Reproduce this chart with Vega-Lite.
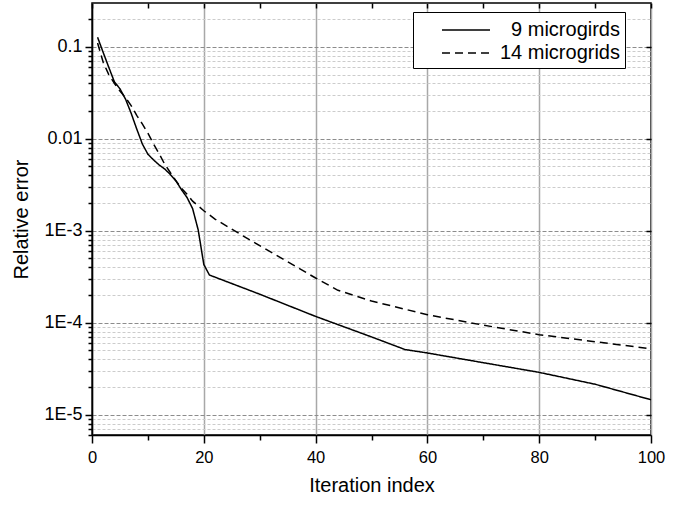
{
  "$schema": "https://vega.github.io/schema/vega-lite/v6.json",
  "width": 559,
  "height": 432,
  "autosize": {"type": "none"},
  "padding": {"left": 92, "top": 3, "right": 41, "bottom": 71},
  "config": {
    "font": "Liberation Sans",
    "view": {"stroke": "black", "strokeWidth": 1.5}
  },
  "data": {
    "values": [
      {"s": "9 microgirds", "x": 1, "y": 0.127},
      {"s": "9 microgirds", "x": 2, "y": 0.087},
      {"s": "9 microgirds", "x": 3, "y": 0.06},
      {"s": "9 microgirds", "x": 4, "y": 0.0417},
      {"s": "9 microgirds", "x": 5, "y": 0.035},
      {"s": "9 microgirds", "x": 6, "y": 0.027},
      {"s": "9 microgirds", "x": 7, "y": 0.019},
      {"s": "9 microgirds", "x": 8, "y": 0.0128},
      {"s": "9 microgirds", "x": 9, "y": 0.0088},
      {"s": "9 microgirds", "x": 10, "y": 0.0068},
      {"s": "9 microgirds", "x": 11, "y": 0.0059},
      {"s": "9 microgirds", "x": 12, "y": 0.0052},
      {"s": "9 microgirds", "x": 13, "y": 0.0047},
      {"s": "9 microgirds", "x": 14, "y": 0.0041},
      {"s": "9 microgirds", "x": 15, "y": 0.0035},
      {"s": "9 microgirds", "x": 16, "y": 0.0028},
      {"s": "9 microgirds", "x": 17, "y": 0.0023},
      {"s": "9 microgirds", "x": 18, "y": 0.00174},
      {"s": "9 microgirds", "x": 19, "y": 0.00102},
      {"s": "9 microgirds", "x": 20, "y": 0.00043},
      {"s": "9 microgirds", "x": 21, "y": 0.00033},
      {"s": "9 microgirds", "x": 30, "y": 0.000204},
      {"s": "9 microgirds", "x": 40, "y": 0.000117},
      {"s": "9 microgirds", "x": 50, "y": 0.00007},
      {"s": "9 microgirds", "x": 56, "y": 0.000051},
      {"s": "9 microgirds", "x": 60, "y": 0.0000468},
      {"s": "9 microgirds", "x": 70, "y": 0.0000367},
      {"s": "9 microgirds", "x": 80, "y": 0.0000288},
      {"s": "9 microgirds", "x": 90, "y": 0.0000214},
      {"s": "9 microgirds", "x": 100, "y": 0.0000145},
      {"s": "14 microgrids", "x": 1, "y": 0.11},
      {"s": "14 microgrids", "x": 2, "y": 0.068},
      {"s": "14 microgrids", "x": 3, "y": 0.05},
      {"s": "14 microgrids", "x": 4, "y": 0.04},
      {"s": "14 microgrids", "x": 5, "y": 0.033},
      {"s": "14 microgrids", "x": 6, "y": 0.028},
      {"s": "14 microgrids", "x": 7, "y": 0.023},
      {"s": "14 microgrids", "x": 8, "y": 0.018},
      {"s": "14 microgrids", "x": 9, "y": 0.0145},
      {"s": "14 microgrids", "x": 10, "y": 0.0115},
      {"s": "14 microgrids", "x": 11, "y": 0.0088},
      {"s": "14 microgrids", "x": 12, "y": 0.0069},
      {"s": "14 microgrids", "x": 13, "y": 0.0053},
      {"s": "14 microgrids", "x": 14, "y": 0.0043},
      {"s": "14 microgrids", "x": 15, "y": 0.0035},
      {"s": "14 microgrids", "x": 16, "y": 0.0029},
      {"s": "14 microgrids", "x": 17, "y": 0.0025},
      {"s": "14 microgrids", "x": 18, "y": 0.0021},
      {"s": "14 microgrids", "x": 20, "y": 0.00165},
      {"s": "14 microgrids", "x": 22, "y": 0.00134},
      {"s": "14 microgrids", "x": 28, "y": 0.00081},
      {"s": "14 microgrids", "x": 40, "y": 0.000306},
      {"s": "14 microgrids", "x": 44, "y": 0.000225},
      {"s": "14 microgrids", "x": 50, "y": 0.000172},
      {"s": "14 microgrids", "x": 60, "y": 0.000122},
      {"s": "14 microgrids", "x": 70, "y": 0.000094},
      {"s": "14 microgrids", "x": 80, "y": 0.000074},
      {"s": "14 microgrids", "x": 90, "y": 0.000062},
      {"s": "14 microgrids", "x": 100, "y": 0.000052}
    ]
  },
  "layer": [
    {
      "mark": {"type": "line", "color": "black", "strokeWidth": 1.5},
      "encoding": {
        "x": {
          "field": "x", "type": "quantitative",
          "scale": {"domain": [0, 100], "nice": false},
          "axis": {
            "title": "Iteration index",
            "titleFontSize": 20, "titleFontWeight": "normal", "titleColor": "black", "titlePadding": 10,
            "values": [0, 10, 20, 30, 40, 50, 60, 70, 80, 90, 100],
            "labelExpr": "datum.value % 20 === 0 ? datum.value : ''",
            "labelFontSize": 16.5, "labelColor": "black", "labelFlush": false, "labelOverlap": false, "labelPadding": 6,
            "domainColor": "black", "domainWidth": 1.5,
            "tickColor": "black", "tickWidth": 1.5,
            "tickSize": {"condition": {"test": "datum.value % 20 === 0", "value": 8}, "value": 5},
            "grid": true,
            "gridColor": "#a8a8a8", "gridWidth": 1.5,
            "gridOpacity": {"condition": {"test": "datum.value % 20 === 0", "value": 1}, "value": 0}
          }
        },
        "y": {
          "field": "y", "type": "quantitative",
          "scale": {"type": "log", "domain": [0.000006, 0.3], "nice": false},
          "axis": {
            "title": "Relative error",
            "titleFontSize": 20, "titleFontWeight": "normal", "titleColor": "black", "titlePadding": 12,
            "values": [0.000006, 0.000007, 0.000008, 0.000009, 0.00001, 0.00002, 0.00003, 0.00004, 0.00005, 0.00006, 0.00007, 0.00008, 0.00009, 0.0001, 0.0002, 0.0003, 0.0004, 0.0005, 0.0006, 0.0007, 0.0008, 0.0009, 0.001, 0.002, 0.003, 0.004, 0.005, 0.006, 0.007, 0.008, 0.009, 0.01, 0.02, 0.03, 0.04, 0.05, 0.06, 0.07, 0.08, 0.09, 0.1, 0.2],
            "labelExpr": "abs(log(datum.value)/LN10 - round(log(datum.value)/LN10)) < 0.01 ? (datum.value > 0.05 ? '0.1' : (datum.value > 0.005 ? '0.01' : '1E' + round(log(datum.value)/LN10))) : ''",
            "labelFontSize": 18, "labelColor": "black", "labelOverlap": false, "labelPadding": 3,
            "domainColor": "black", "domainWidth": 1.5,
            "tickColor": "black", "tickWidth": 1.5,
            "tickSize": {"condition": {"test": "abs(log(datum.value)/LN10 - round(log(datum.value)/LN10)) < 0.01", "value": 7}, "value": 4},
            "grid": true,
            "gridColor": {"condition": {"test": "abs(log(datum.value)/LN10 - round(log(datum.value)/LN10)) < 0.01", "value": "#8c8c8c"}, "value": "#cccccc"},
            "gridDash": {"condition": {"test": "abs(log(datum.value)/LN10 - round(log(datum.value)/LN10)) < 0.01", "value": [4, 2]}, "value": [3, 2]},
            "gridWidth": 1
          }
        },
        "strokeDash": {
          "field": "s", "type": "nominal",
          "scale": {"domain": ["9 microgirds", "14 microgrids"], "range": [[1, 0], [8, 5]]},
          "legend": {
            "orient": "none", "legendX": 321, "legendY": 9,
            "title": null,
            "symbolType": "M-2,0L2,0", "symbolSize": 576, "symbolStrokeWidth": 1.5, "symbolStrokeColor": "black", "symbolFillColor": "transparent",
            "labelFontSize": 20, "labelColor": "black", "labelOffset": 141, "labelLimit": 300, "labelAlign": "right",
            "symbolOffset": 35,
            "strokeColor": "black", "fillColor": "white", "padding": 5,
            "rowPadding": 0
          }
        }
      }
    },
    {
      "mark": {"type": "line", "opacity": 0},
      "encoding": {
        "x": {
          "field": "x", "type": "quantitative",
          "axis": {"orient": "top", "title": null, "labels": false, "grid": false, "domain": false,
            "values": [0, 10, 20, 30, 40, 50, 60, 70, 80, 90, 100],
            "tickColor": "black", "tickWidth": 1.5, "tickSize": -5}
        },
        "y": {
          "field": "y", "type": "quantitative",
          "axis": {"orient": "right", "title": null, "labels": false, "grid": false, "domain": false,
            "values": [0.00001, 0.0001, 0.001, 0.01, 0.1],
            "tickColor": "black", "tickWidth": 1.5, "tickSize": -5}
        },
        "detail": {"field": "s"}
      }
    }
  ],
  "resolve": {"axis": {"x": "independent", "y": "independent"}}
}
